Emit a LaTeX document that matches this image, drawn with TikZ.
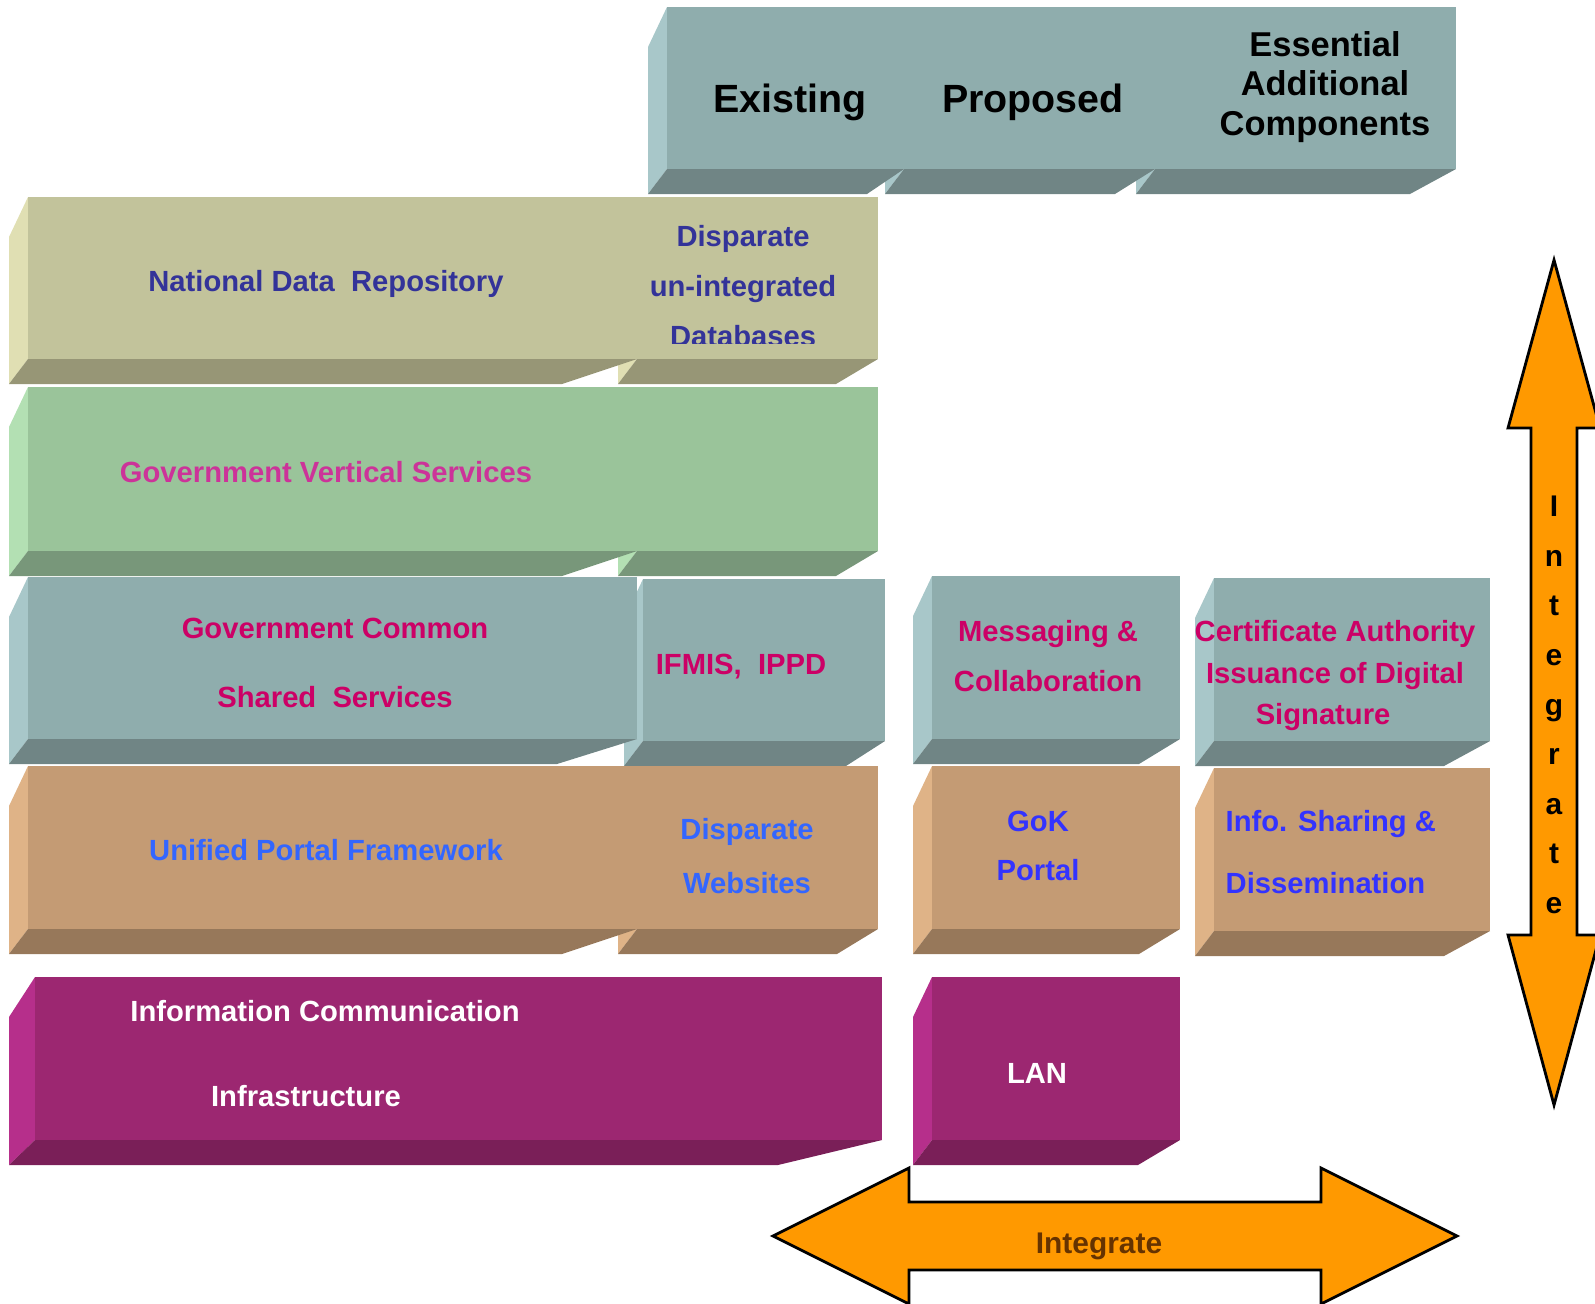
\documentclass[tikz,border=0pt]{standalone}
\usepackage{fontspec}
\setmainfont{Liberation Sans}
\usepackage{tikz}
\definecolor{slatefront}{HTML}{8FADAD}
\definecolor{slateside}{HTML}{A8C7C9}
\definecolor{slatebase}{HTML}{708585}
\definecolor{olivefront}{HTML}{C2C39B}
\definecolor{oliveside}{HTML}{E0DFB3}
\definecolor{olivebase}{HTML}{979676}
\definecolor{sagefront}{HTML}{9AC49A}
\definecolor{sageside}{HTML}{B3E0B3}
\definecolor{sagebase}{HTML}{78977A}
\definecolor{tanfront}{HTML}{C49B74}
\definecolor{tanside}{HTML}{DFB387}
\definecolor{tanbase}{HTML}{97785A}
\definecolor{plumfront}{HTML}{9C2771}
\definecolor{plumside}{HTML}{B62F8B}
\definecolor{plumbase}{HTML}{7A1F58}
\definecolor{arroworange}{HTML}{FF9900}
\definecolor{navytext}{HTML}{333399}
\definecolor{pinktext}{HTML}{CC3399}
\definecolor{crimsontext}{HTML}{CC0066}
\definecolor{skytext}{HTML}{3366FF}
\definecolor{bluetext}{HTML}{3333FF}
\definecolor{browntext}{HTML}{663300}

% box seen from the lower left: side face, front face, bottom face
% [side depth] {x1}{y1}{x2}{y2}{bottom slant}{palette}
\newcommand{\slab}[7][19]{%
  \fill[#7side] (#2,#3) -- ++(-#1,40) -- (#2-#1,#5+25) -- (#2,#5) -- cycle;
  \fill[#7front] (#2,#3) rectangle (#4,#5);
  \fill[#7base] (#2,#5) -- (#4,#5) -- (#4-#6,#5+25) -- (#2-#1,#5+25) -- cycle;
}
\newcommand{\txtsize}[2]{\fontsize{#1}{#2}\selectfont}

\begin{document}
\begin{tikzpicture}[
    x=0.01cm, y=-0.01cm,
    tag/.style={inner sep=0pt, align=center},
    body/.style={tag, font={\txtsize{8.3}{14.2}\bfseries}},
    bigarrow/.style={fill=arroworange, draw=black, line width=0.8pt, line join=miter}
]
\useasboundingbox (0,0) rectangle (1595,1303);

% header
\slab{1155}{7}{1456}{169}{46}{slate}
\slab{904}{7}{1155}{169}{40}{slate}
\slab{667}{7}{904}{169}{37}{slate}
\node[tag, font={\txtsize{11.2}{13}\bfseries}] (existing) at (790,102) {Existing};
\node[tag, font={\txtsize{11.2}{13}\bfseries}] (proposed) at (1033,102) {Proposed};
\node[tag, font={\txtsize{9.8}{11.2}\bfseries}] (essential) at (1325,87) {Essential\\Additional\\Components};

% data layer
\slab{637}{197}{878}{359}{42}{olive}
\slab{28}{197}{637}{359}{75}{olive}
\node[body, text=navytext] (ndr) at (326,284) {National Data~ Repository};
\begin{scope}
  \clip (637,197) rectangle (878,343);
  \node[body, text=navytext] (disparatedb) at (743,286) {Disparate\\un-integrated\\Databases};
\end{scope}

% vertical services
\slab{637}{387}{878}{551}{42}{sage}
\slab{28}{387}{637}{551}{75}{sage}
\node[body, text=pinktext] (gvs) at (326,472) {Government Vertical Services};

% common services
\slab{1214}{578}{1490}{741}{46}{slate}
\slab{932}{576}{1180}{739}{41}{slate}
\slab{643}{579}{885}{741}{39}{slate}
\slab{28}{577}{637}{739}{80}{slate}
\node[body, text=crimsontext, font={\txtsize{8.3}{19.6}\bfseries}] (gcss) at (335,663) {Government Common\\Shared~ Services};
\node[body, text=crimsontext] (ifmis) at (741,667) {IFMIS,~ IPPD};
\node[body, text=crimsontext] (messaging) at (1048,656) {Messaging \&\\Collaboration};
\node[body, text=crimsontext, font={\txtsize{8.3}{11.8}\bfseries}] (certauth) at (1335,676) {Certificate Authority\\Issuance of Digital\\Signature\hspace*{6.8pt}};

% portal layer
\slab{1214}{768}{1490}{931}{46}{tan}
\slab{932}{766}{1180}{929}{41}{tan}
\slab{637}{766}{878}{929}{41}{tan}
\slab{28}{766}{637}{929}{75}{tan}
\node[body, text=skytext] (upf) at (326,850) {Unified Portal Framework};
\node[body, text=skytext, font={\txtsize{8.3}{15.6}\bfseries}] (websites) at (747,856) {Disparate\\Websites};
\node[body, text=bluetext, font={\txtsize{8.3}{13.7}\bfseries}] (gok) at (1038,846) {GoK\\Portal};
\node[body, text=bluetext, font={\txtsize{8.3}{17.4}\bfseries}, anchor=west, align=left] (infoshare) at (1225,852) {Info. Sharing \&\\Dissemination};

% infrastructure
\slab{932}{977}{1180}{1140}{42}{plum}
\slab[26]{35}{977}{882}{1140}{104}{plum}
\node[body, text=white] (ici) at (325,1011) {Information Communication};
\node[body, text=white] (infra) at (306,1096) {Infrastructure};
\node[body, text=white] (lan) at (1037,1073) {LAN};

% integrate arrows
\draw[bigarrow] (773,1236) -- (909,1168) -- (909,1202) -- (1321,1202) -- (1321,1168)
  -- (1457,1236) -- (1321,1304) -- (1321,1270) -- (909,1270) -- (909,1304) -- cycle;
\node[tag, text=browntext, font={\txtsize{8.5}{10}\bfseries}] (integrateh) at (1099,1246) {Integrate};
\draw[bigarrow] (1554,260) -- (1600,428) -- (1577,428) -- (1577,935) -- (1600,935)
  -- (1554,1105) -- (1508,935) -- (1531,935) -- (1531,428) -- (1508,428) -- cycle;
\node[tag, font={\txtsize{8.5}{14.1}\bfseries}] (integratev) at (1554,705) {I\\n\\t\\e\\g\\r\\a\\t\\e};
\end{tikzpicture}
\end{document}
